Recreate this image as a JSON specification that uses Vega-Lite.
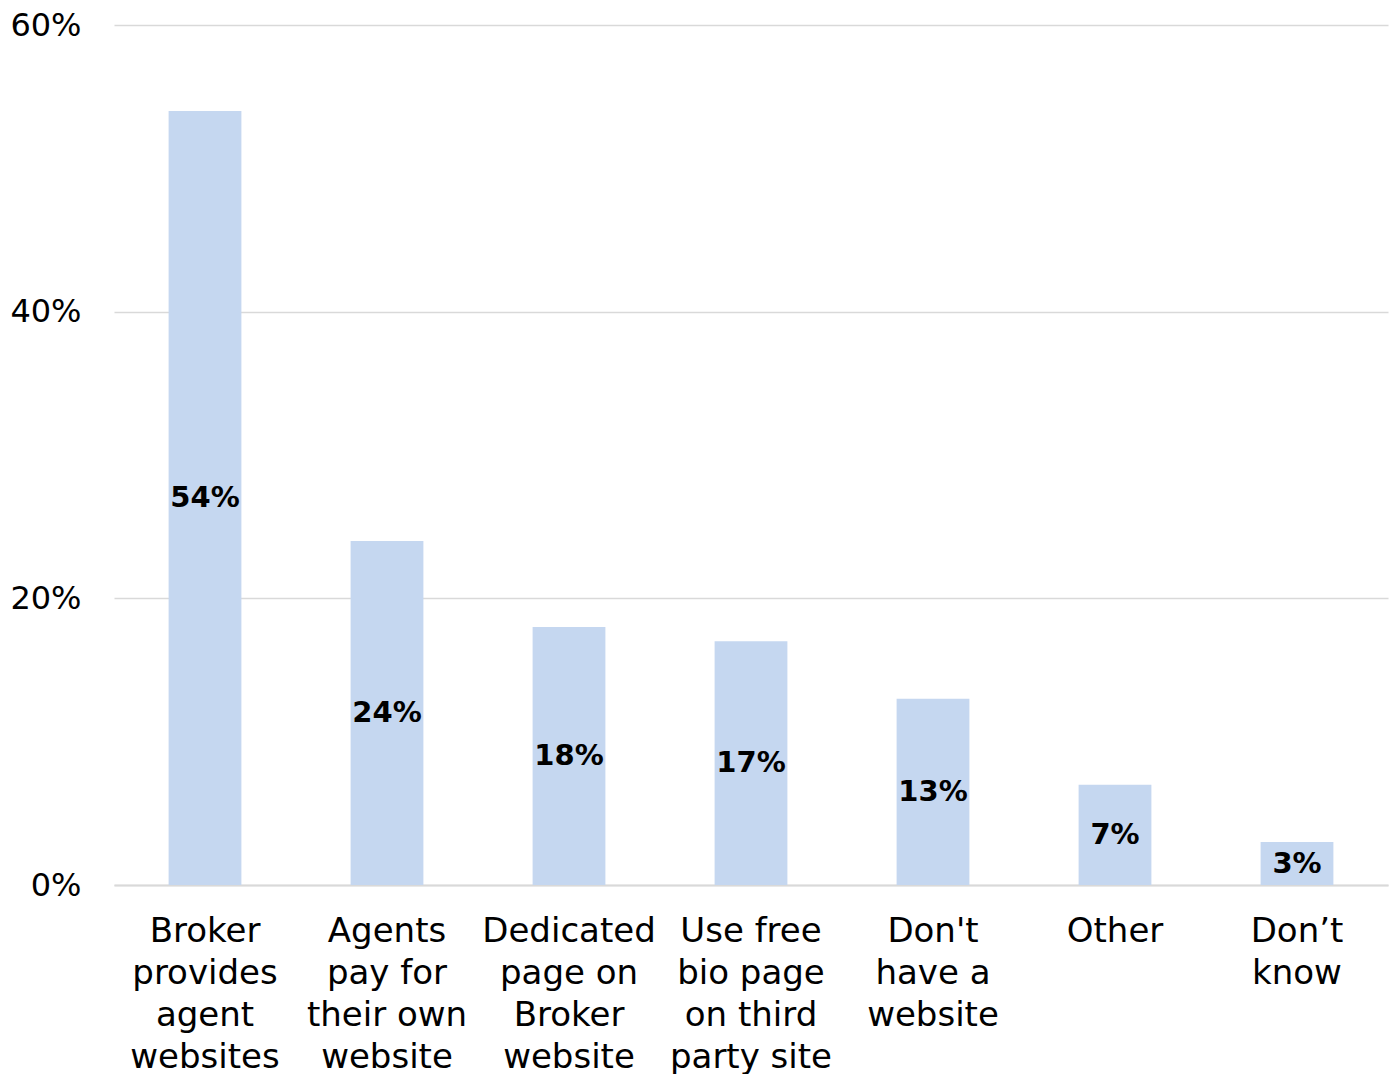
{
  "$schema": "https://vega.github.io/schema/vega-lite/v6.json",
  "width": 1274,
  "height": 860,
  "autosize": {"type": "none"},
  "padding": {"left": 114, "top": 25, "right": 3, "bottom": 189},
  "background": "white",
  "config": {"view": {"stroke": null}, "font": "DejaVu Sans"},
  "data": {
    "values": [
      {"category": "Broker\nprovides\nagent\nwebsites", "value": 54},
      {"category": "Agents\npay for\ntheir own\nwebsite", "value": 24},
      {"category": "Dedicated\npage on\nBroker\nwebsite", "value": 18},
      {"category": "Use free\nbio page\non third\nparty site", "value": 17},
      {"category": "Don't\nhave a\nwebsite", "value": 13},
      {"category": "Other", "value": 7},
      {"category": "Don’t\nknow", "value": 3}
    ]
  },
  "encoding": {
    "x": {
      "field": "category",
      "type": "nominal",
      "sort": null,
      "scale": {"paddingInner": 0.6, "paddingOuter": 0.3},
      "axis": {
        "title": null,
        "labelAngle": 0,
        "labelExpr": "split(datum.label, '\\n')",
        "labelFontSize": 34,
        "labelLineHeight": 42,
        "labelColor": "#000000",
        "labelPadding": 29,
        "labelBaseline": "top",
        "ticks": false,
        "domainColor": "#d9d9d9",
        "domainWidth": 2,
        "labelFont": "DejaVu Sans"
      }
    }
  },
  "layer": [
    {
      "mark": {"type": "bar", "color": "#c5d7f0"},
      "encoding": {
        "y": {
          "field": "value",
          "type": "quantitative",
          "scale": {"domain": [0, 60]},
          "axis": {
            "title": null,
            "values": [0, 20, 40, 60],
            "labelExpr": "datum.value + '%'",
            "labelFontSize": 32,
            "labelColor": "#000000",
            "labelPadding": 33,
            "ticks": false,
            "domain": false,
            "gridColor": "#d9d9d9",
            "gridWidth": 1.5,
            "labelFont": "DejaVu Sans"
          }
        }
      }
    },
    {
      "transform": [
        {"calculate": "datum.value / 2", "as": "mid"},
        {"calculate": "datum.value + '%'", "as": "label"}
      ],
      "mark": {"type": "text", "fontSize": 29, "fontWeight": "bold", "color": "#000000", "baseline": "middle", "align": "center", "font": "DejaVu Sans"},
      "encoding": {
        "y": {"field": "mid", "type": "quantitative"},
        "text": {"field": "label", "type": "nominal"}
      }
    }
  ]
}
